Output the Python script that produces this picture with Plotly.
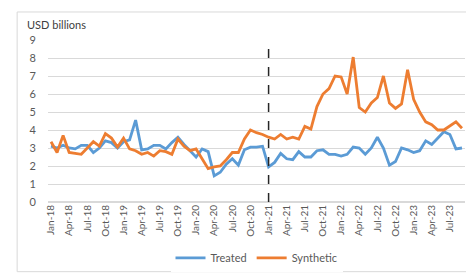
import plotly.graph_objects as go
import pandas as pd

months = pd.date_range("2018-01-01", "2023-09-01", freq="MS").strftime("%b-%y").tolist()

treated = [3.1, 3.0, 3.15, 3.0, 2.95, 3.15, 3.15, 2.75, 3.0, 3.4, 3.3, 3.0,
           3.35, 3.45, 4.55, 2.9, 2.95, 3.15, 3.15, 2.95, 3.3, 3.6, 3.2, 2.85,
           2.5, 2.95, 2.8, 1.45, 1.65, 2.1, 2.4, 2.05, 2.9, 3.05, 3.05, 3.1,
           1.95, 2.2, 2.7, 2.4, 2.35, 2.8, 2.5, 2.5, 2.85, 2.9, 2.65, 2.65,
           2.55, 2.65, 3.05, 3.0, 2.65, 3.0, 3.6, 3.0, 2.05, 2.25, 3.0, 2.9,
           2.75, 2.85, 3.4, 3.2, 3.55, 3.9, 3.75, 2.95, 3.0]

synthetic = [3.35, 2.75, 3.7, 2.75, 2.7, 2.65, 3.0, 3.35, 3.1, 3.8, 3.55, 3.05,
             3.55, 2.95, 2.85, 2.65, 2.75, 2.55, 2.85, 2.8, 2.65, 3.5, 3.1, 2.85,
             2.95, 2.4, 1.85, 1.95, 2.0, 2.35, 2.75, 2.75, 3.5, 4.0, 3.85, 3.75,
             3.6, 3.5, 3.75, 3.5, 3.6, 3.5, 4.2, 4.05, 5.3, 6.0, 6.3, 7.0,
             6.95, 6.0, 8.05, 5.25, 5.0, 5.5, 5.8, 7.0, 5.5, 5.2, 5.45, 7.35,
             5.7, 5.0, 4.45, 4.3, 4.0, 4.0, 4.25, 4.45, 4.1]

yticks = [0, 1, 2, 3, 4, 5, 6, 7, 8, 9]
treat_idx = months.index("Jan-21")

x = list(range(len(months)))
tick_idx = x[::3]
tick_txt = [months[i] for i in tick_idx]

FONT = "Lato, 'Open Sans', sans-serif"
GREY = "#595959"

fig = go.Figure()
fig.add_trace(go.Scatter(x=x, y=treated, name="Treated", mode="lines",
                         line=dict(color="#5B9BD5", width=2.8)))
fig.add_trace(go.Scatter(x=x, y=synthetic, name="Synthetic", mode="lines",
                         line=dict(color="#ED7D31", width=2.8)))

fig.add_shape(type="line", xref="x", yref="y", x0=treat_idx, x1=treat_idx, y0=0, y1=9,
              line=dict(color="#262626", width=1.5, dash="dash"))
fig.add_shape(type="rect", xref="paper", yref="paper", x0=-0.074, x1=1.036, y0=-0.43, y1=1.173,
              line=dict(color="#D9D9D9", width=1), layer="below")

fig.add_annotation(text="USD billions", xref="paper", yref="paper", x=-0.055, y=1.095,
                   xanchor="left", yanchor="middle", showarrow=False,
                   font=dict(family=FONT, size=11, color="#404040"))

fig.update_layout(
    width=474, height=277,
    margin=dict(l=40, r=17, t=32, b=77),
    paper_bgcolor="white", plot_bgcolor="white",
    font=dict(family=FONT, size=10, color=GREY),
    showlegend=True,
    legend=dict(orientation="h", x=0.5, xanchor="center", y=-0.345, yanchor="middle",
                font=dict(family=FONT, size=11, color=GREY), itemwidth=30,
                tracegroupgap=0),
)
fig.update_xaxes(range=[-0.5, len(months) - 0.5], tickmode="array", tickvals=tick_idx,
                 ticktext=tick_txt, tickangle=-90, showgrid=False, zeroline=False,
                 showline=False, ticks="", tickfont=dict(size=10, color=GREY))
fig.update_yaxes(range=[0, 9], tickvals=yticks, showgrid=True, gridcolor="#D9D9D9",
                 gridwidth=1, zeroline=True, zerolinecolor="#D9D9D9", showline=False,
                 ticks="", ticklabelstandoff=11, tickfont=dict(size=11, color=GREY))

fig.write_html("out.html")
